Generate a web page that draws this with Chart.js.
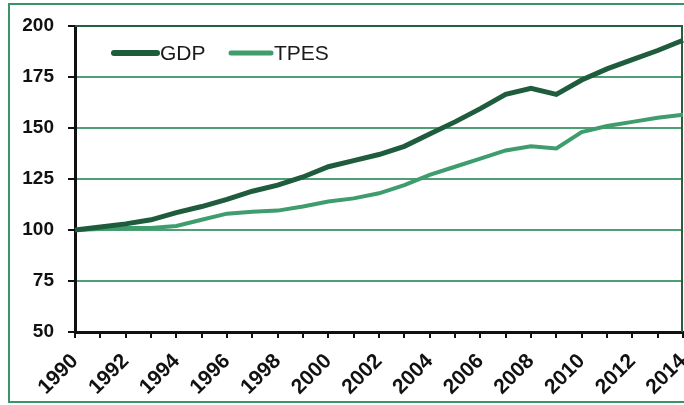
<!DOCTYPE html>
<html>
<head>
<meta charset="utf-8">
<script src="https://cdn.jsdelivr.net/npm/chart.js@4"></script>
<style>
  html, body { margin: 0; padding: 0; background: #fff; }
  #wrap { width: 684px; height: 405px; position: relative; }
</style>
</head>
<body>
<div id="wrap"><canvas id="myChart" width="684" height="405"></canvas></div>
<script>
// datos (indice 1990 = 100)
const years = ["1990","1991","1992","1993","1994","1995","1996","1997","1998","1999","2000","2001","2002",
               "2003","2004","2005","2006","2007","2008","2009","2010","2011","2012","2013","2014"];
const gdp  = [100, 101.5, 103, 105, 108.5, 111.5, 115, 119, 122, 126, 131, 134, 137,
              141, 147, 153, 159.5, 166.5, 169.5, 166.5, 173.5, 179, 183.5, 188, 193];
const tpes = [100, 100.5, 101, 101, 102, 105, 108, 109, 109.5, 111.5, 114, 115.5, 118,
              122, 127, 131, 135, 139, 141, 140, 148, 151, 153, 155, 156.5];
const yTicks = [50, 75, 100, 125, 150, 175, 200];

const darkGreen = '#1f5c3d';
const lightGreen = '#3f9c6c';
const gridGreen = '#4e9e76';
const font = "'Liberation Sans', Arial, sans-serif";

// marco verde exterior, borde superior/derecho del area y leyenda
const extras = {
  id: 'extras',
  beforeDraw(chart) {
    const c = chart.ctx;
    c.save();
    c.fillStyle = '#fff';
    c.fillRect(0, 0, chart.width, chart.height);
    c.strokeStyle = '#3a9468';
    c.lineWidth = 2;
    c.strokeRect(9, 4, 680, 398);
    c.restore();
  },
  beforeDatasetsDraw(chart) {
    const a = chart.chartArea;
    const c = chart.ctx;
    c.save();
    c.strokeStyle = '#245f40';
    c.lineWidth = 2;
    c.beginPath();
    c.moveTo(a.left, a.top);
    c.lineTo(a.right - 1, a.top);
    c.lineTo(a.right - 1, a.bottom);
    c.stroke();
    c.restore();
  },
  afterDraw(chart) {
    const c = chart.ctx;
    const items = [
      { label: 'GDP', color: darkGreen, w: 6, x: 114, len: 43 },
      { label: 'TPES', color: lightGreen, w: 5, x: 231, len: 40 }
    ];
    c.save();
    c.font = "21px " + font;
    c.textBaseline = 'middle';
    items.forEach(it => {
      c.strokeStyle = it.color;
      c.lineWidth = it.w;
      c.lineCap = 'round';
      c.beginPath();
      c.moveTo(it.x, 53);
      c.lineTo(it.x + it.len, 53);
      c.stroke();
      c.fillStyle = '#1a1a1a';
      c.fillText(it.label, it.x + it.len + 3, 54);
    });
    c.restore();
  }
};

window.onload = function() {
  let canva = document.getElementById('myChart').getContext('2d');
  let myChart = new Chart(canva, {
    type: 'line',
    data: {
      labels: years,
      datasets: [
        { label: 'GDP', data: gdp, borderColor: darkGreen, borderWidth: 5, pointRadius: 0, tension: 0 },
        { label: 'TPES', data: tpes, borderColor: lightGreen, borderWidth: 4, pointRadius: 0, tension: 0 }
      ]
    },
    options: {
      responsive: false,
      animation: false,
      layout: { padding: { left: 0, right: 1, top: 26, bottom: 0 } },
      plugins: { legend: { display: false }, tooltip: { enabled: false } },
      scales: {
        x: {
          offset: false,
          border: { color: '#111', width: 3 },
          grid: { drawOnChartArea: false, drawTicks: true, tickLength: 6, color: '#111', lineWidth: 2 },
          ticks: {
            autoSkip: false,
            maxRotation: 45, minRotation: 45,
            padding: 11,
            color: '#111',
            font: { family: font, size: 21, weight: 'bold' },
            callback: function(v, i) { return i % 2 === 0 ? years[i] : ''; }
          },
          afterFit: function(s) { s.height = 73; s.paddingLeft = 0; s.paddingRight = 0; }
        },
        y: {
          min: 50, max: 200,
          border: { color: '#111', width: 3 },
          grid: { color: gridGreen, lineWidth: 2, tickLength: 7, tickColor: '#111' },
          afterBuildTicks: function(s) { s.ticks = yTicks.map(v => ({ value: v })); },
          ticks: {
            padding: 14,
            color: '#111',
            font: { family: font, size: 19, weight: 'bold' }
          },
          afterFit: function(s) { s.width = 75; s.paddingTop = 0; s.paddingBottom = 0; }
        }
      }
    },
    plugins: [extras]
  });
};
</script>
</body>
</html>
